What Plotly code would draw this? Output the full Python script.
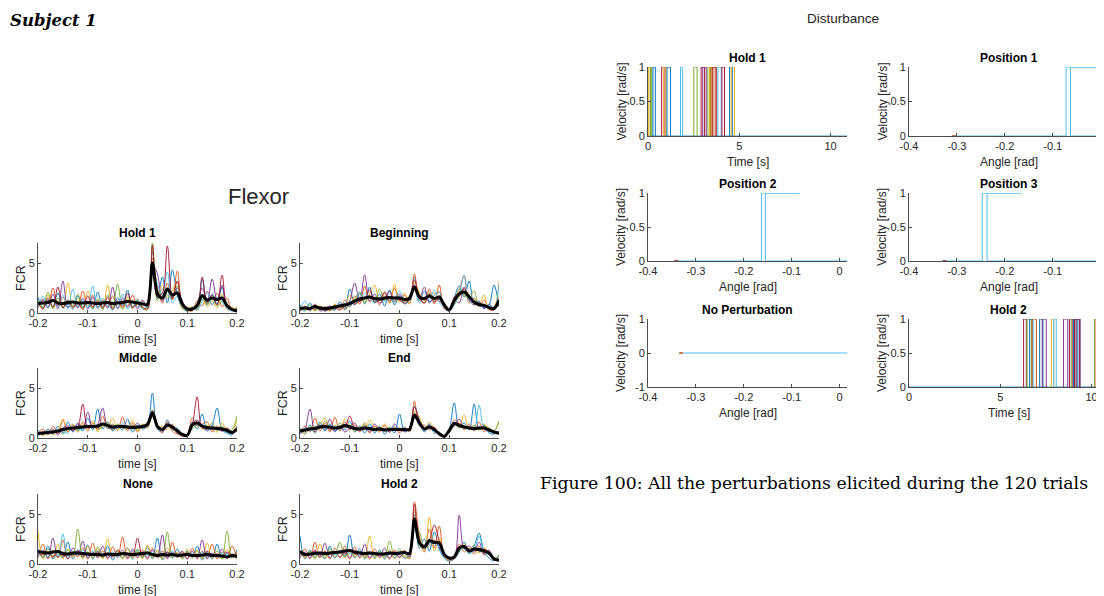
import plotly.graph_objects as go

# Reference canvas is 1104x596; the page body adds an 8px margin, so the figure
# itself is drawn 1096x588 and reference pixel positions are shifted by 8.
W, H = 1104, 596
OFF = 8
FW_PX, FH_PX = W - OFF, H - OFF
C = ['#0072BD', '#D95319', '#EDB120', '#7E2F8E', '#77AC30', '#4DBEEE', '#A2142F']
FONT = "Liberation Sans, Arial, sans-serif"
INK = '#262626'
AX = '#4d4d4d'

TIME = [-0.20, -0.19, -0.18, -0.17, -0.16, -0.15, -0.14, -0.13, -0.12, -0.11, -0.10,
        -0.09, -0.08, -0.07, -0.06, -0.05, -0.04, -0.03, -0.02, -0.01, 0.00,
        0.01, 0.02, 0.03, 0.04, 0.05, 0.06, 0.07, 0.08, 0.09, 0.10,
        0.11, 0.12, 0.13, 0.14, 0.15, 0.16, 0.17, 0.18, 0.19, 0.20]

# ---------------- Flexor (FCR) ----------------
HOLD1_MEAN = [0.95,1.0,1.05,1.25,1.0,0.95,1.05,1.1,1.0,1.0,1.05,
              1.0,0.95,1.0,1.05,0.95,1.0,1.05,1.15,1.1,1.0,
              0.9,0.85,5.0,1.9,1.5,2.4,1.8,2.0,0.9,0.4,
              0.4,0.75,1.75,1.3,1.5,1.35,1.5,0.75,0.35,0.2]
HOLD1_TRIALS = [
    [1.6,0.5,1.3,0.6,2.0,0.5,0.9,0.4,1.7,0.6,1.2, 0.4,2.1,0.6,1.0,0.3,1.5,0.8,2.3,0.5,1.3, 0.4,0.7,6.2,1.4,3.6,1.0,4.3,1.8,0.5,0.2, 0.6,0.3,3.4,0.8,1.9,0.9,2.6,0.4,0.3,0.1],
    [0.5,1.4,0.6,2.5,0.7,1.6,0.5,1.2,0.6,2.2,0.7, 1.8,0.5,1.3,0.6,1.7,0.5,1.2,0.7,1.8,0.6, 1.2,0.5,5.5,2.6,1.0,3.0,1.3,4.2,0.8,0.3, 0.2,1.2,0.7,2.2,0.8,2.0,0.6,1.5,0.2,0.5],
    [1.2,0.4,1.8,0.5,1.1,0.6,3.0,0.5,1.4,0.3,2.2, 0.6,1.3,0.4,2.8,0.5,1.0,0.4,1.6,0.5,0.9, 0.6,0.4,6.6,1.9,2.8,1.5,2.2,3.1,0.4,0.5, 0.6,0.3,1.8,0.6,1.2,0.5,1.9,0.4,0.6,0.2],
    [0.8,1.3,0.5,1.9,0.4,3.2,0.6,1.1,0.5,1.5,0.4, 1.6,0.6,1.1,0.5,2.6,0.4,1.5,0.6,1.2,0.4, 1.3,0.6,4.8,3.9,1.2,2.2,1.6,2.5,1.2,0.4, 0.3,0.9,2.5,1.1,3.4,1.2,2.8,0.7,0.4,0.3],
    [1.3,0.6,2.1,0.4,1.5,0.5,1.2,0.7,1.9,0.5,1.0, 0.5,1.4,0.3,1.8,0.6,2.9,0.4,1.3,0.6,1.4, 0.5,0.3,7.0,1.2,2.4,1.8,1.5,2.7,0.6,0.2, 0.4,0.5,1.4,0.9,1.6,0.7,1.2,0.9,0.3,0.6],
    [0.6,1.7,0.5,1.2,0.6,1.8,0.4,2.4,0.6,1.3,0.5, 2.7,0.4,1.5,0.7,1.1,0.5,1.9,0.4,1.0,0.6, 1.1,0.5,4.2,2.9,1.8,4.1,1.0,1.7,0.7,0.3, 0.5,0.3,1.2,2.1,0.8,1.6,1.1,0.5,0.2,0.4],
    [1.0,0.4,1.5,0.6,2.6,0.5,1.3,0.6,1.0,0.4,1.7, 0.6,1.2,0.5,1.6,0.4,1.2,0.6,2.0,0.5,1.1, 0.6,0.4,6.8,1.6,2.0,6.7,1.4,3.2,0.9,0.3, 0.4,0.6,3.6,1.0,1.8,0.8,3.8,0.6,0.3,0.4],
]

BEGIN_MEAN = [0.45,0.5,0.45,0.65,0.5,0.45,0.5,0.6,0.7,0.8,0.95,
              1.2,1.4,1.5,1.6,1.45,1.4,1.5,1.55,1.5,1.5,
              1.35,1.45,2.6,1.6,1.45,1.7,1.45,1.6,0.8,0.3,
              1.25,1.9,2.1,1.6,1.1,0.85,0.75,0.55,0.45,1.25]
BEGIN_TRIALS = [
    [0.8,0.2,1.0,0.3,0.6,0.2,0.5,0.3,1.1,0.5,2.4, 0.8,2.0,0.9,2.6,1.0,1.9,0.7,2.3,0.8,1.7, 0.9,1.3,3.6,1.2,2.2,1.0,1.8,2.1,0.5,0.2, 1.5,2.7,1.6,3.2,0.9,1.2,0.5,0.8,2.8,0.6],
    [0.3,0.7,0.2,0.9,0.3,0.6,0.2,0.8,0.4,1.3,0.6, 1.7,0.9,2.7,1.1,1.6,0.8,2.0,1.0,2.5,1.2, 1.8,0.9,3.9,1.4,1.0,2.4,0.9,2.8,0.4,0.3, 0.9,2.2,3.7,1.0,1.5,0.6,1.3,0.4,0.3,1.6],
    [0.6,0.3,0.5,0.2,0.7,0.4,0.3,0.9,0.5,0.6,1.8, 1.0,1.6,1.1,1.9,2.8,1.2,1.7,1.0,2.9,1.1, 2.0,1.0,3.1,2.0,1.2,1.6,2.0,1.3,1.0,0.4, 1.0,1.6,2.5,1.8,1.2,0.9,1.8,0.3,0.5,3.2],
    [0.2,0.5,0.3,0.8,0.2,0.4,0.7,0.3,0.9,0.4,1.2, 3.0,1.1,3.8,1.2,1.9,1.0,1.4,2.2,1.1,1.9, 1.2,1.7,2.8,1.5,2.6,1.1,1.5,1.2,0.7,0.2, 1.3,1.0,2.6,1.3,0.8,1.1,0.4,0.9,0.4,1.0],
    [0.5,0.4,0.8,0.3,0.4,0.6,0.3,0.4,0.8,0.3,0.9, 1.4,2.1,1.0,1.7,1.2,2.4,1.3,1.6,1.2,1.4, 1.1,1.5,2.3,1.8,1.3,2.0,1.2,1.7,0.9,0.3, 1.1,2.4,1.8,1.5,2.2,0.7,0.9,0.5,0.6,1.2],
    [0.4,1.2,0.3,0.6,0.4,0.3,0.5,0.4,0.6,1.0,0.7, 1.1,1.3,2.0,1.5,1.0,1.6,1.2,1.3,1.4,2.2, 1.4,1.2,2.4,1.0,1.6,1.3,2.3,1.0,0.6,0.2, 0.8,1.8,3.8,1.2,1.0,0.7,0.6,0.8,0.3,2.9],
    [0.3,0.6,0.5,0.4,0.6,0.2,0.4,0.5,0.3,0.7,1.0, 0.9,1.2,1.4,2.3,1.1,1.3,2.1,1.2,1.6,1.3, 1.0,1.4,3.3,1.6,1.0,1.9,1.1,1.4,0.8,0.2, 1.6,2.0,2.4,1.7,0.9,0.8,0.7,0.4,0.3,0.9],
]

MIDDLE_MEAN = [0.45,0.5,0.55,0.6,0.7,0.85,0.95,1.0,1.05,1.1,1.15,
               1.15,1.2,1.4,1.25,1.1,1.15,1.15,1.1,1.05,1.1,
               1.15,1.35,2.55,1.15,0.85,1.3,1.1,0.7,0.35,0.25,
               1.3,1.5,1.2,1.05,1.0,0.95,0.9,0.75,0.55,0.9]
MIDDLE_TRIALS = [
    [0.8,0.3,0.9,0.4,1.2,0.5,1.6,0.6,1.4,0.7,2.0, 0.8,2.9,0.9,1.6,0.7,1.2,0.8,1.9,0.6,1.3, 0.9,1.2,4.5,0.9,0.6,1.8,0.8,1.0,0.3,0.2, 1.6,0.9,2.4,0.7,1.3,3.0,0.8,0.5,0.3,1.2],
    [0.4,0.9,0.3,1.2,0.5,1.8,0.6,1.3,0.8,1.6,0.7, 1.5,0.8,2.2,0.9,1.4,0.8,2.1,0.7,1.5,0.6, 1.4,1.0,2.8,1.4,0.5,1.6,0.7,0.4,0.2,0.3, 2.0,1.2,1.4,1.6,0.6,1.2,0.7,1.0,0.4,1.1],
    [0.6,0.2,0.8,0.3,0.6,1.9,0.7,1.0,0.6,1.4,0.9, 1.7,0.6,1.3,1.0,2.0,0.8,1.2,0.9,1.8,0.7, 1.2,1.6,2.3,1.0,1.2,0.8,1.4,0.6,0.3,0.2, 1.1,1.7,0.9,1.3,0.8,0.6,1.5,0.7,0.5,2.0],
    [0.3,0.6,0.4,0.9,0.3,1.0,1.2,0.7,1.5,0.9,2.6, 1.0,1.4,3.0,1.1,0.9,1.3,1.0,1.2,1.0,1.5, 1.0,1.3,2.2,1.2,0.7,1.1,1.3,0.5,0.4,0.2, 1.4,1.8,1.0,0.8,1.2,0.9,0.7,1.0,0.6,0.8],
    [0.5,0.4,0.6,0.5,0.8,0.4,0.9,1.4,0.7,1.2,1.0, 1.3,0.9,1.1,1.6,0.8,1.4,1.0,0.9,1.3,0.8, 1.3,1.1,2.1,1.1,0.9,1.4,0.9,0.6,0.3,0.4, 0.9,1.3,1.1,0.9,1.5,0.7,1.2,0.6,0.8,2.2],
    [0.2,0.5,0.7,0.4,0.9,0.6,0.5,1.1,0.8,0.9,1.3, 1.0,1.2,1.5,1.0,1.3,0.9,1.5,1.1,0.9,1.2, 1.0,1.5,2.6,1.0,0.8,1.2,1.1,0.8,0.4,0.2, 1.2,1.4,1.3,1.1,0.8,1.1,0.9,0.7,0.4,0.9],
    [0.4,0.6,0.5,0.7,0.5,0.9,1.0,0.8,1.1,3.4,1.0, 1.2,1.0,1.4,1.2,1.0,1.1,1.3,1.0,1.2,1.0, 1.1,1.4,2.4,1.3,0.9,1.4,1.0,0.7,0.3,0.2, 1.3,4.1,1.0,1.1,0.9,1.0,0.8,0.7,0.5,0.7],
]

END_MEAN = [0.7,0.8,0.9,0.95,1.1,1.15,1.1,1.0,1.05,1.25,1.1,
            0.95,0.9,1.0,0.95,0.85,0.9,0.8,0.85,0.85,0.85,
            0.85,0.85,2.3,1.5,0.9,1.1,0.85,0.4,0.15,0.75,
            1.45,1.25,1.1,1.0,0.95,1.0,1.0,0.8,0.6,0.5]
END_TRIALS = [
    [1.0,0.4,1.3,0.5,1.6,0.7,1.4,0.6,1.2,0.8,1.7, 0.6,1.2,0.5,1.4,0.5,1.1,0.4,1.0,0.5,2.4, 0.6,1.0,3.2,1.8,0.6,1.4,0.5,0.6,0.2,0.9, 3.5,1.1,1.5,0.8,3.4,1.0,1.3,0.5,0.4,0.6],
    [0.5,1.2,0.6,2.0,0.7,1.5,0.6,2.1,0.7,1.6,0.8, 1.3,0.6,1.5,0.5,1.2,0.6,1.3,0.6,1.1,0.5, 1.1,0.6,3.7,1.2,1.3,0.8,1.1,0.3,0.2,0.5, 1.8,1.5,0.8,1.4,0.7,1.6,0.6,1.0,0.5,0.4],
    [0.8,0.5,1.1,0.6,1.4,2.0,1.0,1.3,0.8,1.9,1.2, 0.7,1.1,0.8,1.8,1.0,0.7,1.4,0.8,1.0,0.7, 0.9,0.7,2.6,2.1,0.8,1.6,0.9,0.5,0.3,0.6, 1.3,1.2,2.3,0.9,1.2,0.8,1.4,0.9,0.7,1.6],
    [0.4,0.9,2.9,0.6,1.3,0.8,1.9,0.7,1.2,0.6,1.0, 1.5,0.7,1.2,0.6,1.4,0.8,1.0,0.6,1.4,0.8, 0.7,1.0,2.0,1.6,0.9,1.3,0.8,0.4,0.2,0.7, 1.2,1.9,1.0,1.2,0.8,1.1,0.9,0.7,0.6,0.4],
    [0.6,0.7,0.8,1.2,0.9,1.7,1.0,0.9,1.5,1.0,1.3, 0.8,1.0,1.3,0.8,0.9,1.2,0.7,1.1,0.9,1.0, 0.8,0.9,2.4,1.4,1.0,1.2,0.9,0.5,0.2,0.6, 1.4,1.0,1.2,0.9,1.3,0.8,1.2,1.0,0.7,1.7],
    [0.5,1.0,0.7,1.1,1.2,0.9,1.3,1.1,0.9,1.4,1.0, 1.1,0.8,0.9,1.1,0.7,1.0,0.9,0.8,1.2,0.9, 1.0,0.8,2.2,1.3,0.8,1.0,0.8,0.4,0.1,0.8, 1.6,1.3,1.0,1.1,1.0,3.3,0.9,0.7,0.5,0.4],
    [0.7,0.8,1.0,0.9,1.1,1.3,0.8,1.0,1.2,1.1,2.2, 1.0,0.9,1.0,0.9,0.8,1.0,0.8,0.9,0.8,0.9, 0.8,0.9,3.1,1.7,0.9,1.1,1.0,0.4,0.2,0.7, 1.5,1.4,1.1,1.0,0.9,1.0,1.1,0.8,0.6,0.5],
]

NONE_MEAN = [1.25,1.15,1.1,1.2,1.25,1.05,1.0,1.1,1.1,1.05,1.0,
             0.95,0.95,0.9,1.0,0.95,0.95,1.05,1.0,0.95,1.0,
             1.05,1.1,0.95,0.85,0.95,0.9,0.95,0.85,0.9,0.95,
             0.85,0.85,0.9,0.95,0.85,0.85,0.8,0.7,0.85,0.75]
NONE_TRIALS = [
    [1.5,0.6,1.8,0.5,1.2,0.7,2.2,0.5,1.4,0.6,1.9, 0.5,1.3,0.6,1.8,0.4,1.1,0.6,1.6,0.5,1.4, 0.6,1.7,0.5,2.6,0.4,1.2,0.6,1.5,0.5,1.3, 0.6,1.8,0.4,1.2,0.5,2.0,0.5,1.1,0.6,1.4],
    [0.6,2.0,0.5,1.4,0.6,2.4,0.5,1.2,0.7,1.6,0.5, 2.1,0.6,1.3,0.5,1.7,0.6,2.7,0.5,1.2,0.6, 1.4,0.5,1.6,0.6,1.3,0.5,2.2,0.6,1.2,0.5, 1.6,0.5,1.3,0.6,2.0,0.5,1.2,0.6,1.8,0.5],
    [3.3,0.5,1.3,0.6,2.0,0.5,1.5,0.7,1.2,0.5,1.8, 0.6,1.5,0.5,2.5,0.7,1.3,0.5,1.6,0.6,1.2, 0.5,1.9,0.6,1.3,0.5,1.6,0.7,1.2,0.5,1.5, 0.6,1.3,0.5,2.1,0.6,1.0,0.5,1.5,0.6,1.2],
    [0.8,1.4,0.6,2.6,0.7,1.2,0.5,1.6,0.8,2.3,0.6, 1.2,0.7,1.8,0.6,1.1,0.8,1.4,0.6,1.5,0.7, 1.2,0.6,1.4,0.7,2.9,0.6,1.2,0.8,1.3,0.5, 1.3,0.6,2.4,0.5,1.1,0.7,1.5,0.6,1.0,0.7],
    [1.2,0.7,1.5,0.8,1.0,0.6,1.4,0.8,3.5,0.7,1.2, 0.6,1.7,0.7,1.0,0.8,1.3,0.6,1.1,0.7,1.5, 0.7,1.1,0.8,1.4,0.6,3.2,0.7,1.1,0.6,1.2, 0.7,1.4,0.6,1.1,0.7,1.3,0.6,3.3,0.7,1.0],
    [0.9,1.1,0.7,1.3,0.8,3.0,0.7,1.2,0.9,1.4,0.8, 1.3,0.9,1.1,0.8,1.2,0.7,1.0,0.9,1.3,0.8, 1.0,0.8,1.2,0.9,1.1,0.8,1.3,0.7,1.0,0.9, 1.1,0.8,1.2,0.7,1.0,0.8,1.1,0.9,0.8,0.9],
    [1.1,0.9,1.2,0.7,1.4,0.8,1.0,0.9,1.3,0.8,1.1, 0.9,1.2,0.8,1.1,0.7,1.4,0.9,1.0,0.8,2.6, 0.8,1.2,0.9,1.0,0.8,1.2,0.9,1.0,0.8,1.1, 0.9,1.0,0.8,1.3,0.9,1.0,0.8,1.2,0.9,1.1],
]

HOLD2_MEAN = [1.25,0.95,1.0,1.05,1.1,1.05,1.1,1.15,1.2,1.3,1.35,
              1.2,1.1,1.05,1.1,1.05,1.0,1.0,1.1,1.05,1.1,
              1.15,1.05,4.5,2.1,1.7,2.35,2.15,2.1,0.95,0.6,
              0.7,1.6,1.75,1.3,1.5,1.45,1.3,1.1,0.5,0.4]
HOLD2_TRIALS = [
    [2.8,0.5,1.4,0.6,1.2,0.5,1.8,0.6,1.3,0.7,2.9, 0.6,1.5,0.5,1.2,0.6,1.4,0.5,1.3,0.6,1.2, 0.6,0.8,5.0,1.6,2.5,1.3,3.2,1.5,0.6,0.3, 0.5,1.2,2.2,1.0,1.8,3.1,1.2,0.6,0.3,0.9],
    [0.6,1.5,0.5,2.2,0.6,1.3,0.5,1.6,0.6,1.8,0.5, 1.7,0.6,1.2,0.5,1.5,0.6,1.1,0.5,1.4,0.6, 1.4,0.5,6.2,2.8,1.2,3.5,1.6,3.8,0.8,0.4, 0.5,2.0,1.2,1.6,1.0,1.8,0.9,1.2,0.4,0.3],
    [1.3,0.6,1.1,0.5,2.0,0.6,1.3,0.7,1.1,0.6,1.5, 0.7,1.2,0.6,2.8,0.5,1.1,0.6,1.5,0.5,1.0, 0.7,0.6,5.4,2.0,1.4,4.7,1.3,2.6,0.7,0.5, 0.6,1.4,2.0,1.2,1.4,1.1,1.6,0.9,0.5,0.6],
    [0.7,1.2,0.6,1.4,0.7,2.1,0.6,1.2,0.7,1.1,0.6, 1.3,0.7,2.0,0.6,1.1,0.7,1.6,0.6,1.2,0.7, 1.1,0.7,4.2,2.4,1.8,2.0,2.4,1.6,0.9,0.5, 0.6,4.9,1.5,1.8,1.2,2.2,1.0,1.4,0.5,0.4],
    [1.0,0.8,1.3,0.7,1.0,0.8,1.5,0.9,2.2,0.8,1.1, 0.9,1.3,0.7,1.0,0.8,1.3,0.7,2.3,0.8,1.5, 0.8,1.0,3.8,3.2,1.6,1.8,2.2,2.0,1.0,0.6, 0.7,1.3,1.6,1.4,1.9,1.2,1.4,1.0,0.6,0.9],
    [0.9,1.0,0.8,1.2,0.9,1.0,1.2,0.9,1.1,1.4,1.0, 1.2,0.9,1.1,1.0,0.9,1.2,0.8,1.0,1.1,0.9, 1.2,0.9,3.4,2.1,1.5,2.2,2.0,1.7,1.0,0.5, 0.6,1.6,1.5,1.1,1.4,2.8,1.2,0.9,0.5,0.4],
    [1.1,0.8,1.0,1.3,0.9,1.2,1.0,1.1,1.3,1.0,1.4, 1.0,1.1,0.9,1.2,1.0,0.9,1.1,1.0,1.2,1.0, 1.1,1.0,6.0,2.2,1.9,2.4,3.9,2.3,1.0,0.6, 0.7,1.7,1.8,1.4,1.6,1.3,1.5,1.2,0.5,0.4],
]

FLEX_TITLES = ["Hold 1", "Beginning", "Middle", "End", "None", "Hold 2"]
FLEX_MEANS = [HOLD1_MEAN, BEGIN_MEAN, MIDDLE_MEAN, END_MEAN, NONE_MEAN, HOLD2_MEAN]
FLEX_TRIALS = [HOLD1_TRIALS, BEGIN_TRIALS, MIDDLE_TRIALS, END_TRIALS, NONE_TRIALS, HOLD2_TRIALS]

# ---------------- Disturbance ----------------
D_HOLD1_START = [0.04, 0.13, 0.27, 0.75, 0.86, 1.04, 1.78, 2.51, 2.91, 3.00, 3.28, 3.37, 3.46, 3.55, 3.83, 4.05, 4.47, 4.56]
D_HOLD1_END   = [0.13, 0.20, 0.40, 0.93, 0.99, 1.23, 1.90, 2.69, 3.10, 3.19, 3.43, 3.55, 3.68, 3.74, 4.01, 4.19, 4.62, 4.74]
D_HOLD1_COLOR = [2, 4, 0, 6, 2, 0, 5, 4, 6, 3, 4, 2, 1, 6, 5, 6, 0, 2]
D_HOLD1_TSPAN = [0, 11]

D_HOLD2_START = [6.28, 6.47, 6.61, 6.74, 7.16, 7.30, 7.80, 7.93, 8.47, 8.80, 8.89, 9.02, 9.07, 9.16, 10.16, 10.25]
D_HOLD2_END   = [6.43, 6.70, 6.79, 6.98, 7.34, 7.52, 7.93, 8.07, 8.70, 8.98, 9.16, 9.25, 9.34, 9.38, 10.34, 10.47]
D_HOLD2_COLOR = [6, 4, 0, 1, 0, 3, 2, 5, 3, 6, 4, 0, 6, 3, 4, 1]
D_HOLD2_TSPAN = [0, 11]

POS1_ANGLE = [-0.31, -0.072, -0.072, 0.02, -0.063, -0.063, 0.02]
POS1_VEL   = [0, 0, 1, 1, 1, 0, 0]
POS2_ANGLE = [-0.345, -0.163, -0.163, -0.083, -0.155, -0.155, 0.02]
POS2_VEL   = [0, 0, 1, 1, 1, 0, 0]
POS3_ANGLE = [-0.33, -0.247, -0.247, -0.166, -0.237, -0.237, 0.02]
POS3_VEL   = [0, 0, 1, 1, 1, 0, 0]
NOPERT_ANGLE = [-0.335, 0.02]
NOPERT_VEL   = [0, 0]

for arr in [TIME] + FLEX_MEANS + [tr for p in FLEX_TRIALS for tr in p]:
    assert len(arr) == 41, len(arr)

fig = go.Figure()
annotations = []


def px_x(x):
    return (x - OFF) / FW_PX


def px_y(y):
    return 1 - (y - OFF) / FH_PX


def add_text(x, y, text, size=11, bold=False, angle=0, xanchor='center', family=FONT, color=INK):
    annotations.append(dict(
        x=px_x(x), y=px_y(y), xref='paper', yref='paper', text=("<b>%s</b>" % text if bold else text),
        showarrow=False, xanchor=xanchor, yanchor='middle', textangle=angle,
        font=dict(family=family, size=size, color=color)))


axis_common = dict(showline=True, linecolor=AX, linewidth=1, ticks='inside', ticklen=3,
                   tickcolor=AX, showgrid=False, zeroline=False, mirror=False, automargin=False,
                   tickfont=dict(family=FONT, size=11, color=INK), fixedrange=True)

layout_axes = {}
ax_id = 0


def new_axes(x0, x1, ytop, ybot, xr, yr, xtv, xtt, ytv, ytt):
    global ax_id
    ax_id += 1
    xa = 'xaxis' if ax_id == 1 else 'xaxis%d' % ax_id
    ya = 'yaxis' if ax_id == 1 else 'yaxis%d' % ax_id
    layout_axes[xa] = dict(axis_common, domain=[px_x(x0), min(1.0, px_x(x1))], range=xr,
                           anchor='y' if ax_id == 1 else 'y%d' % ax_id,
                           tickmode='array', tickvals=xtv, ticktext=xtt)
    layout_axes[ya] = dict(axis_common, domain=[px_y(ybot), px_y(ytop)], range=yr,
                           anchor='x' if ax_id == 1 else 'x%d' % ax_id,
                           tickmode='array', tickvals=ytv, ticktext=ytt)
    return ('x' if ax_id == 1 else 'x%d' % ax_id), ('y' if ax_id == 1 else 'y%d' % ax_id)


# Flexor grid (reference pixel positions)
FX0 = [38, 300]
FW = 199
FY0 = [243, 368, 494]
FH = 70
TX = [-0.2, -0.1, 0, 0.1, 0.2]
TXT = ['-0.2', '-0.1', '0', '0.1', '0.2']
for i, title in enumerate(FLEX_TITLES):
    col, row = i % 2, i // 2
    x0 = FX0[col]; x1 = x0 + FW
    yt = FY0[row]; yb = yt + FH
    xa, ya = new_axes(x0, x1, yt, yb, [-0.2, 0.2], [0, 7], TX, TXT, [0, 5], ['0', '5'])
    for k, tr in enumerate(FLEX_TRIALS[i]):
        fig.add_trace(go.Scatter(x=TIME, y=tr, mode='lines', xaxis=xa, yaxis=ya,
                                 line=dict(color=C[k % 7], width=1, shape='spline', smoothing=1.0),
                                 opacity=0.9, hoverinfo='skip', showlegend=False))
    fig.add_trace(go.Scatter(x=TIME, y=FLEX_MEANS[i], mode='lines', xaxis=xa, yaxis=ya,
                             line=dict(color='black', width=3, shape='spline', smoothing=0.8),
                             hoverinfo='skip', showlegend=False))
    add_text((x0 + x1) / 2, yt - 10, title, size=12, bold=True, color='black')
    add_text((x0 + x1) / 2, yb + 26, 'time [s]', size=12)
    add_text(x0 - 17, (yt + yb) / 2, 'FCR', size=12.5, angle=-90)

# Disturbance grid (reference pixel positions)
DX0 = [648, 909]
DX1 = [847, 1104]
DYT = [67, 193, 319]
DYB = [136, 261, 387]
ANG_V = [-0.4, -0.3, -0.2, -0.1, 0]
ANG_T = ['-0.4', '-0.3', '-0.2', '-0.1', '0']
VEL_V = [0, 0.5, 1]
VEL_T = ['0', '0.5', '1']


def pulses(xa, ya, starts, ends, colors, span):
    fig.add_trace(go.Scatter(x=span, y=[0, 0], mode='lines', xaxis=xa, yaxis=ya,
                             line=dict(color='#3d9fd6', width=1), hoverinfo='skip', showlegend=False))
    for s, e, c in zip(starts, ends, colors):
        fig.add_trace(go.Scatter(x=[s, s, e, e], y=[0, 1, 1, 0], mode='lines', xaxis=xa, yaxis=ya,
                                 line=dict(color=C[c], width=1), hoverinfo='skip', showlegend=False))


dist_specs = [
    ("Hold 1", 0, 0, 'time'),
    ("Position 1", 1, 0, 'pos1'),
    ("Position 2", 0, 1, 'pos2'),
    ("Position 3", 1, 1, 'pos3'),
    ("No Perturbation", 0, 2, 'none'),
    ("Hold 2", 1, 2, 'time2'),
]
for title, col, row, kind in dist_specs:
    x0, x1 = DX0[col], DX1[col]
    yt, yb = DYT[row], DYB[row]
    width_px = x1 - x0
    if kind in ('time', 'time2'):
        xr = [0, width_px / 18.25]
        xtv, xtt = [0, 5, 10], ['0', '5', '10']
        xlabel = 'Time [s]'
    else:
        xr = [-0.4, -0.4 + width_px / 479.0]
        xtv, xtt = ANG_V, ANG_T
        xlabel = 'Angle [rad]'
    if kind == 'none':
        yr, ytv, ytt = [-1, 1], [-1, 0, 1], ['-1', '0', '1']
    else:
        yr, ytv, ytt = [0, 1], VEL_V, VEL_T
    xa, ya = new_axes(x0, x1, yt, yb, xr, yr, xtv, xtt, ytv, ytt)
    if kind == 'time':
        pulses(xa, ya, D_HOLD1_START, D_HOLD1_END, D_HOLD1_COLOR, D_HOLD1_TSPAN)
    elif kind == 'time2':
        pulses(xa, ya, D_HOLD2_START, D_HOLD2_END, D_HOLD2_COLOR, D_HOLD2_TSPAN)
    else:
        ang, vel, startc = {
            'pos1': (POS1_ANGLE, POS1_VEL, C[1]),
            'pos2': (POS2_ANGLE, POS2_VEL, C[6]),
            'pos3': (POS3_ANGLE, POS3_VEL, C[6]),
            'none': (NOPERT_ANGLE, NOPERT_VEL, C[1]),
        }[kind]
        fig.add_trace(go.Scatter(x=ang, y=vel, mode='lines', xaxis=xa, yaxis=ya,
                                 line=dict(color=C[5], width=1), hoverinfo='skip', showlegend=False))
        fig.add_trace(go.Scatter(x=[ang[0], ang[0] + 0.008], y=[vel[0], vel[0]], mode='lines',
                                 xaxis=xa, yaxis=ya, line=dict(color=startc, width=1.5),
                                 hoverinfo='skip', showlegend=False))
    cx = (x0 + x1) / 2 if col == 0 else x0 + 99.5
    add_text(cx, yt - 9, title, size=12, bold=True, color='black')
    add_text(cx, yb + 26, xlabel, size=12)
    add_text(x0 - 27, (yt + yb) / 2, 'Velocity [rad/s]', size=12, angle=-90)

# Headings and caption
add_text(OFF, 20, "<b><i>Subject 1</i></b>", size=16.5, xanchor='left', family="DejaVu Serif, serif", color='black')
add_text(258, 197, "Flexor", size=22, color=INK)
add_text(843, 18, "Disturbance", size=13.5, color=INK)
add_text(538, 483, "Figure 100: All the perturbations elicited during the 120 trials",
         size=17.3, xanchor='left', family="DejaVu Serif, serif", color='black')

fig.update_layout(
    width=FW_PX, height=FH_PX, margin=dict(l=0, r=0, t=0, b=0, pad=0), autosize=False,
    paper_bgcolor='white', plot_bgcolor='white', showlegend=False,
    annotations=annotations, **layout_axes)

fig.write_html("out.html")
